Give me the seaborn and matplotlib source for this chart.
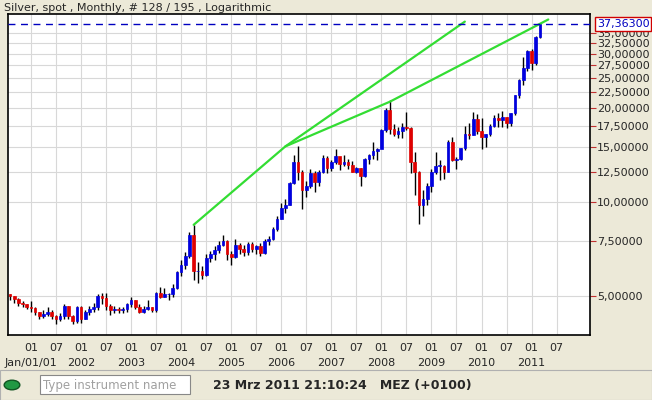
import matplotlib
matplotlib.use("Agg")
import matplotlib.pyplot as plt
from matplotlib.patches import Rectangle, Circle
import seaborn as sns
import pandas as pd

# monthly candles, Aug 2000 .. Mar 2011
closes = [4.98, 4.87, 4.74, 4.71, 4.59,
          4.56, 4.43, 4.32, 4.38, 4.45, 4.30, 4.21, 4.29, 4.62, 4.29, 4.15, 4.60,
          4.22, 4.42, 4.55, 4.60, 5.00, 4.90, 4.65, 4.50, 4.55, 4.50, 4.55, 4.70,
          4.85, 4.60, 4.45, 4.55, 4.60, 4.50, 5.10, 4.95, 5.05, 5.05, 5.30, 5.95,
          6.30, 6.70, 7.85, 6.00, 6.00, 5.85, 6.60, 6.80, 7.00, 7.30, 7.50, 6.80,
          6.65, 7.30, 7.05, 6.90, 7.35, 7.05, 7.20, 6.85, 7.50, 7.60, 8.20, 8.80,
          9.60, 9.80, 11.50, 13.40, 12.50, 10.90, 11.30, 12.40, 11.60, 12.50, 13.90, 12.90,
          13.40, 14.10, 13.30, 13.40, 13.20, 12.50, 12.90, 12.10, 13.80, 14.20, 14.60, 14.80,
          17.00, 19.80, 17.20, 16.60, 16.90, 17.40, 17.30, 13.40, 12.50, 9.80, 10.20, 11.30,
          12.50, 13.10, 13.10, 12.50, 15.60, 13.70, 13.80, 14.90, 16.60, 16.40, 18.50, 16.90,
          16.20, 16.50, 17.50, 18.60, 18.30, 18.70, 18.00, 19.30, 22.00, 24.70, 27.00, 30.60,
          27.90, 34.00, 37.363]
highs = [5.05, 5.00, 4.90, 4.80, 4.70,
         4.80, 4.60, 4.45, 4.50, 4.60, 4.50, 4.35, 4.40, 4.70, 4.65, 4.35, 4.65,
         4.65, 4.50, 4.65, 4.75, 5.05, 5.10, 5.10, 4.70, 4.65, 4.60, 4.60, 4.75,
         4.95, 4.85, 4.70, 4.65, 4.85, 4.60, 5.15, 5.35, 5.30, 5.10, 5.45, 6.00,
         6.50, 6.90, 8.00, 8.45, 6.40, 6.25, 6.80, 6.95, 7.20, 7.50, 7.85, 7.55,
         6.95, 7.60, 7.40, 7.30, 7.45, 7.45, 7.30, 7.40, 7.60, 7.80, 8.30, 9.00,
         9.90, 10.20, 11.60, 14.20, 15.10, 12.70, 11.70, 12.80, 12.60, 12.70, 14.15, 14.05,
         13.60, 14.80, 14.00, 14.20, 13.80, 13.50, 13.00, 12.90, 13.90, 14.30, 15.60, 14.90,
         17.20, 20.00, 21.30, 17.80, 17.40, 17.90, 19.40, 17.40, 14.50, 12.60, 10.90, 11.50,
         12.75, 14.50, 13.70, 13.20, 15.80, 16.20, 14.00, 14.90, 17.50, 18.00, 19.50, 19.20,
         18.60, 16.60, 17.80, 19.00, 19.30, 19.60, 18.70, 19.30, 22.10, 24.90, 29.30, 30.70,
         31.00, 34.20, 37.60]
lows = [4.85, 4.75, 4.65, 4.60, 4.55,
        4.45, 4.35, 4.20, 4.25, 4.30, 4.20, 4.05, 4.15, 4.20, 4.20, 4.05, 4.10,
        4.10, 4.20, 4.35, 4.45, 4.50, 4.70, 4.50, 4.35, 4.40, 4.40, 4.40, 4.45,
        4.60, 4.55, 4.40, 4.40, 4.50, 4.45, 4.45, 4.90, 4.95, 4.85, 4.95, 5.25,
        5.80, 6.10, 6.60, 5.60, 5.50, 5.65, 5.80, 6.40, 6.50, 6.85, 7.20, 6.50,
        6.30, 6.60, 6.80, 6.70, 6.75, 6.90, 6.80, 6.70, 6.80, 7.30, 7.55, 8.05,
        8.80, 9.20, 9.80, 11.40, 11.80, 9.50, 10.40, 11.10, 10.80, 11.30, 12.40, 12.40,
        12.60, 13.30, 12.70, 13.10, 12.80, 12.50, 12.40, 11.30, 12.00, 13.30, 13.80, 13.70,
        14.90, 16.80, 16.60, 16.30, 16.10, 16.10, 17.00, 12.40, 10.50, 8.50, 9.00, 9.80,
        10.80, 12.30, 11.80, 11.90, 12.50, 13.50, 12.80, 13.60, 14.70, 16.00, 16.40, 16.60,
        14.80, 15.00, 16.30, 17.40, 17.40, 17.40, 17.30, 17.60, 19.00, 21.60, 23.80, 26.40,
        26.60, 27.50, 33.70]
first_open = 5.05
last_price = 37.363

# trendlines: (month index, price)
trend1_x = [44, 66, 109]
trend1_y = [8.45, 15.1, 38.0]
trend2_x = [66, 91, 129]
trend2_y = [15.1, 21.0, 38.6]

year_labels = ["Jan/01/01", "2002", "2003", "2004", "2005", "2006", "2007",
               "2008", "2009", "2010", "2011"]
yticks = [5, 7.5, 10, 12.5, 15, 17.5, 20, 22.5, 25, 27.5, 30, 32.5, 35]

df = pd.DataFrame({"x": range(len(closes)), "close": closes, "high": highs, "low": lows})
df["open"] = [first_open] + closes[:-1]

sns.set_style("white")
bg = "#ece9d8"
fig = plt.figure(figsize=(6.52, 4.0), dpi=100, facecolor=bg)
ax = fig.add_axes([8 / 652, 65 / 400, 582 / 652, 321 / 400])
ax.set_facecolor("white")
ax.set_yscale("log")
ax.set_ylim(3.74, 40.2)
ax.set_xlim(-0.5, 139)

ax.set_yticks(yticks)
ax.set_yticklabels([f"{v:.5f}".replace(".", ",") for v in yticks])
ax.yaxis.set_minor_locator(matplotlib.ticker.NullLocator())
ax.yaxis.tick_right()
ax.tick_params(axis="y", length=4, labelsize=8, pad=1, color="#c03030")

xt, xl = [], []
for k in range(11):
    xt.append(5 + 12 * k); xl.append("01\n" + year_labels[k])
    xt.append(11 + 12 * k); xl.append("07")
ax.set_xticks(xt)
ax.set_xticklabels(xl, fontsize=8, linespacing=1.6)
ax.tick_params(axis="x", length=3, color="#c03030", pad=3)
ax.grid(True, color="#d8d8d8", lw=0.8)
for s in ax.spines.values():
    s.set_color("black"); s.set_linewidth(1.2)

for _, r in df.iterrows():
    up = r["close"] >= r["open"]
    col = "#0000e0" if up else "#e00000"
    ax.vlines(r["x"], r["low"], r["high"], color="black", lw=1, zorder=2)
    lo, hi = min(r["open"], r["close"]), max(r["open"], r["close"])
    ax.add_patch(Rectangle((r["x"] - 0.32, lo), 0.64, max(hi - lo, 0.02),
                           facecolor=col, edgecolor=col, lw=0.5, zorder=3))

sns.lineplot(x=trend1_x, y=trend1_y, ax=ax, color="#33dd33", lw=1.6, zorder=4)
sns.lineplot(x=trend2_x, y=trend2_y, ax=ax, color="#33dd33", lw=1.6, zorder=4)
ax.axhline(last_price, color="#0000c0", lw=1, ls=(0, (5, 4)), zorder=4)
ax.text(1.012, last_price, f"{last_price:.5f}".replace(".", ","), transform=ax.get_yaxis_transform(),
        va="center", ha="left", fontsize=8, color="#0000c0",
        bbox=dict(facecolor="white", edgecolor="#d00000", pad=1.2))

fig.text(4 / 652, 1 - 8 / 400, "Silver, spot , Monthly, # 128 / 195 , Logarithmic",
         fontsize=8, va="center")

# status bar
fig.add_artist(Rectangle((0, 0), 1, 30 / 400, transform=fig.transFigure, facecolor=bg,
                         edgecolor="#b0b0b0", lw=0.8))
fig.add_artist(Circle((12 / 652, 15 / 400), 0.012, transform=fig.transFigure,
                      facecolor="#229944", edgecolor="#115522"))
fig.add_artist(Rectangle((40 / 652, 6 / 400), 150 / 652, 19 / 400, transform=fig.transFigure,
                         facecolor="white", edgecolor="#888888", lw=0.8))
fig.text(43 / 652, 15 / 400, "Type instrument name", fontsize=8.5, color="#a0a0a0", va="center")
fig.text(213 / 652, 15 / 400, "23 Mrz 2011 21:10:24   MEZ (+0100)", fontsize=9,
         fontweight="bold", va="center")

fig.savefig("out.png", dpi=100, facecolor=bg)
